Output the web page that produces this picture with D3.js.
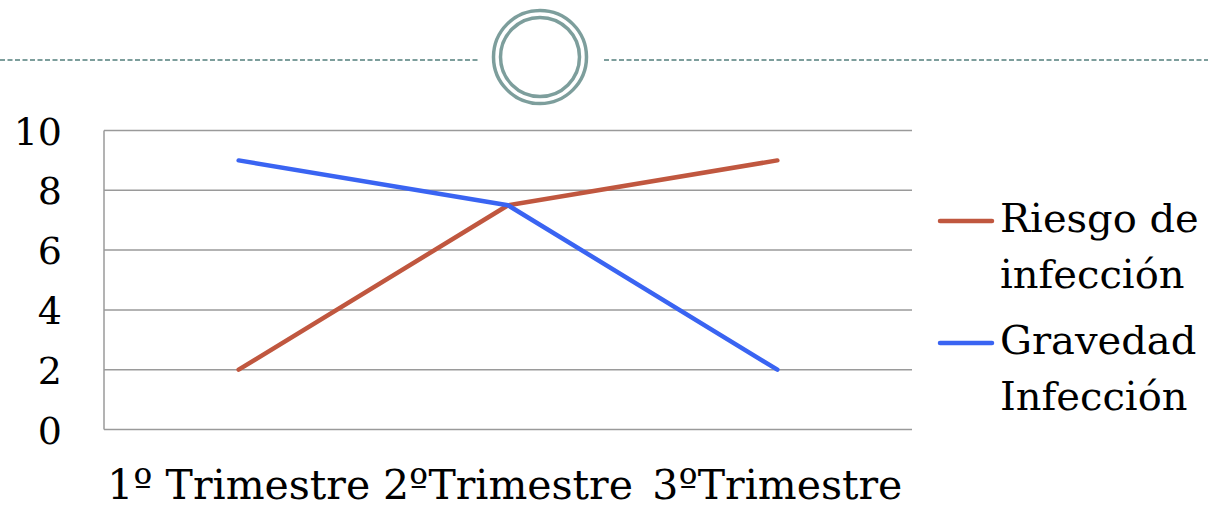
<!DOCTYPE html>
<html><head><meta charset="utf-8">
<script src="https://cdn.jsdelivr.net/npm/d3@7"></script>
<style>body{margin:0;background:#fff}svg{display:block}</style>
</head><body>
<script>
const categories = ["1º Trimestre", "2ºTrimestre", "3ºTrimestre"];
const riesgo = [2, 7.5, 9];
const gravedad = [9, 7.5, 2];
const seriesNames = [["Riesgo de", "infección"], ["Gravedad", "Infección"]];
const seriesColors = ["#c0573f", "#3a64f2"];
const yTicks = [0, 2, 4, 6, 8, 10];

(function () {
const W = 1208, H = 512;
const FONT = "DejaVu Serif";
const svg = d3.select("body").append("svg").attr("width", W).attr("height", H);

// decoration
const deco = "#7d9e9c";
svg.append("line").attr("x1", 0).attr("x2", 478).attr("y1", 60).attr("y2", 60)
  .attr("stroke", deco).attr("stroke-width", 2).attr("stroke-dasharray", "5,2.5");
svg.append("line").attr("x1", 604).attr("x2", W).attr("y1", 60).attr("y2", 60)
  .attr("stroke", deco).attr("stroke-width", 2).attr("stroke-dasharray", "5,2.5");
svg.append("circle").attr("cx", 540).attr("cy", 57).attr("r", 46.5)
  .attr("fill", "none").attr("stroke", deco).attr("stroke-width", 3.5);
svg.append("circle").attr("cx", 540).attr("cy", 57).attr("r", 39.5)
  .attr("fill", "none").attr("stroke", deco).attr("stroke-width", 3.5);

const pl = 104, pr = 912, pt = 130.5, pb = 429.5;
const x = d3.scalePoint().domain(categories).range([pl, pr]).padding(0.5);
const y = d3.scaleLinear().domain([0, 10]).range([pb, pt]);

// gridlines
svg.append("g").selectAll("line").data(yTicks).join("line")
  .attr("x1", pl).attr("x2", pr)
  .attr("y1", d => y(d)).attr("y2", d => y(d))
  .attr("stroke", "#9a9a9a").attr("stroke-width", 1.5);
svg.append("line").attr("x1", pl).attr("x2", pl).attr("y1", pt).attr("y2", pb)
  .attr("stroke", "#9a9a9a").attr("stroke-width", 1.5);

// y labels
svg.append("g").selectAll("text").data(yTicks).join("text")
  .attr("x", 62).attr("y", d => y(d) + 14)
  .attr("text-anchor", "end").style("font-family", FONT).style("font-size", "38px")
  .attr("fill", "#000").text(d => d);

// x labels
svg.append("g").selectAll("text").data(categories).join("text")
  .attr("x", d => x(d)).attr("y", 499)
  .attr("text-anchor", "middle").style("font-family", FONT).style("font-size", "41px")
  .attr("fill", "#000").text(d => d);

// lines
const line = d3.line().x((d, i) => x(categories[i])).y(d => y(d));
[riesgo, gravedad].forEach((s, k) => {
  svg.append("path").datum(s).attr("d", line)
    .attr("fill", "none").attr("stroke", seriesColors[k]).attr("stroke-width", 4.5)
    .attr("stroke-linecap", "round").attr("stroke-linejoin", "round");
});

// legend
const lg = svg.append("g");
const legendY = [221, 343];
seriesNames.forEach((nm, k) => {
  lg.append("line").attr("x1", 940).attr("x2", 992).attr("y1", legendY[k]).attr("y2", legendY[k])
    .attr("stroke", seriesColors[k]).attr("stroke-width", 4.5).attr("stroke-linecap", "round");
  const t = lg.append("text").attr("x", 1000).attr("y", legendY[k] + 11)
    .style("font-family", FONT).style("font-size", "40px").attr("fill", "#000");
  nm.forEach((part, j) => {
    t.append("tspan").attr("x", 1000).attr("dy", j === 0 ? 0 : 56).text(part);
  });
});
})();
</script>
</body></html>
